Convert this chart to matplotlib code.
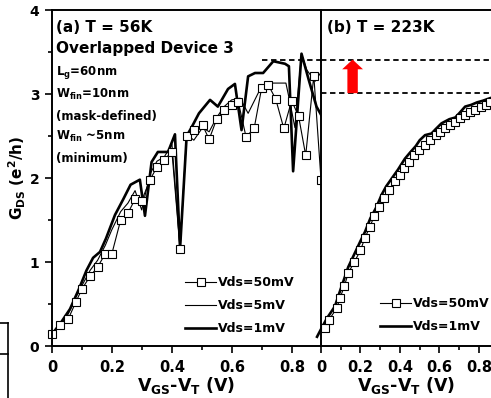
import numpy as np
import matplotlib
matplotlib.use("Agg")
import matplotlib.pyplot as plt
from matplotlib.lines import Line2D
from matplotlib.ticker import MultipleLocator

plt.rcParams['font.family'] = ['DejaVu Sans']
plt.rcParams['font.weight'] = 'bold'
plt.rcParams['mathtext.default'] = 'regular'

# (a) T = 56K
x50_a = [0, 0.027, 0.054, 0.079, 0.1, 0.127, 0.152, 0.178, 0.199, 0.229, 0.253, 0.277,
         0.299, 0.327, 0.35, 0.374, 0.4, 0.427, 0.449, 0.473, 0.502, 0.524, 0.549, 0.574,
         0.599, 0.621, 0.647, 0.674, 0.699, 0.721, 0.746, 0.773, 0.799, 0.822, 0.846,
         0.873, 0.897]
g50_a = [0.14, 0.25, 0.32, 0.52, 0.68, 0.83, 0.94, 1.10, 1.09, 1.50, 1.58, 1.75,
         1.73, 1.98, 2.13, 2.22, 2.31, 1.16, 2.50, 2.57, 2.63, 2.46, 2.70, 2.81,
         2.87, 2.91, 2.49, 2.59, 3.07, 3.11, 2.94, 2.59, 2.92, 2.74, 2.27,
         3.22, 1.98]

x5_a = [0, 0.027, 0.054, 0.079, 0.1, 0.127, 0.152, 0.178, 0.199, 0.229, 0.253, 0.277,
        0.299, 0.327, 0.35, 0.374, 0.4, 0.427, 0.449, 0.473, 0.502, 0.524, 0.549, 0.574,
        0.599, 0.627, 0.654, 0.693, 0.737, 0.78, 0.793, 0.81, 0.832, 0.849, 0.877, 0.91]
g5_a = [0.14, 0.26, 0.38, 0.58, 0.72, 0.90, 1.02, 1.20, 1.38, 1.60, 1.70, 1.85,
        1.62, 2.05, 2.20, 2.25, 2.40, 1.16, 2.52, 2.45, 2.60, 2.55, 2.72, 2.85,
        2.93, 2.95, 2.77, 3.05, 3.13, 3.13, 2.91, 2.60, 3.48, 3.29, 3.15, 3.33]

x1_a = [0.0, 0.03, 0.06, 0.09, 0.115, 0.137, 0.16, 0.18, 0.21, 0.238, 0.262, 0.293,
        0.31, 0.332, 0.353, 0.387, 0.41, 0.427, 0.449, 0.465, 0.49, 0.527, 0.553,
        0.587, 0.61, 0.632, 0.654, 0.677, 0.704, 0.738, 0.777, 0.79, 0.804, 0.832,
        0.856, 0.882, 0.91]
g1_a = [0.14, 0.28, 0.44, 0.68, 0.90, 1.05, 1.12, 1.28, 1.56, 1.75, 1.92, 1.98,
        1.55, 2.19, 2.31, 2.31, 2.52, 1.16, 2.50, 2.60, 2.77, 2.93, 2.85,
        3.06, 3.12, 2.57, 3.21, 3.25, 3.25, 3.39, 3.36, 3.33, 2.08, 3.48,
        3.17, 2.85, 2.67]

# (b) T = 223K
x50_b = [0.02, 0.04, 0.08, 0.096, 0.118, 0.138, 0.169, 0.2, 0.223, 0.248, 0.27, 0.295,
         0.319, 0.344, 0.375, 0.4, 0.422, 0.447, 0.472, 0.498, 0.527, 0.552, 0.58, 0.603,
         0.628, 0.653, 0.678, 0.704, 0.729, 0.754, 0.78, 0.808, 0.834, 0.856]
g50_b = [0.21, 0.31, 0.45, 0.57, 0.71, 0.87, 1.0, 1.14, 1.29, 1.42, 1.55, 1.66,
         1.76, 1.86, 1.96, 2.04, 2.12, 2.19, 2.27, 2.33, 2.39, 2.45, 2.51, 2.55,
         2.59, 2.63, 2.67, 2.71, 2.75, 2.78, 2.81, 2.84, 2.87, 2.90]

x1_b = [-0.02, 0.0, 0.03, 0.07, 0.1, 0.138, 0.17, 0.2, 0.223, 0.25, 0.28, 0.307,
        0.33, 0.36, 0.39, 0.425, 0.45, 0.48, 0.5, 0.527, 0.56, 0.58, 0.61, 0.65,
        0.68, 0.7, 0.73, 0.76, 0.79, 0.82, 0.856, 0.87]
g1_b = [0.11, 0.2, 0.33, 0.47, 0.68, 0.94, 1.1, 1.25, 1.36, 1.52, 1.65, 1.8,
        1.9, 2.0, 2.1, 2.23, 2.3, 2.38, 2.45, 2.51, 2.53, 2.58, 2.65, 2.7,
        2.72, 2.77, 2.85, 2.87, 2.9, 2.92, 2.95, 2.96]

level_hi = 3.41
level_lo = 3.01

W, H = 491, 398
fig = plt.figure(figsize=(W / 100, H / 100), dpi=100)
ax1 = fig.add_axes([52 / W, 1 - 346 / H, 269 / W, 336 / H])
ax2 = fig.add_axes([321 / W, 1 - 346 / H, 170 / W, 336 / H])

thin = dict(color='black', lw=0.8)
sq = dict(marker='s', ms=5.5, mfc='white', mec='black', mew=0.8)

ax1.plot(x5_a, g5_a, **thin, clip_on=False)
ax1.plot(x1_a, g1_a, color='black', lw=1.9, clip_on=False)
ax1.plot(x50_a, g50_a, **thin, **sq, clip_on=False)
ax1.set_xlim(0, 0.897)
ax1.set_ylim(0, 4)

ax2.plot(x1_b, g1_b, color='black', lw=1.9, clip_on=False)
ax2.plot(x50_b, g50_b, **thin, **sq)
ax2.set_xlim(0, 0.861)
ax2.set_ylim(0, 4)

ticks = [0, 0.2, 0.4, 0.6, 0.8]
for ax in (ax1, ax2):
    ax.set_xticks(ticks)
    ax.set_xticklabels(['0', '0.2', '0.4', '0.6', '0.8'], fontweight='bold')
    ax.xaxis.set_minor_locator(MultipleLocator(0.1))
    ax.tick_params(axis='x', which='major', length=5, width=1.2, labelsize=10.5, pad=5)
    ax.tick_params(axis='x', which='minor', length=3, width=1.2)
    for s in ax.spines.values():
        s.set_linewidth(1.4)
    ax.spines['right'].set_visible(False)

ax1.set_yticks([0, 1, 2, 3, 4])
ax1.set_yticklabels(['0', '1', '2', '3', '4'], fontweight='bold')
ax1.yaxis.set_minor_locator(MultipleLocator(0.5))
ax1.tick_params(axis='y', which='major', length=5, width=1.2, labelsize=10, pad=4)
ax1.tick_params(axis='y', which='minor', length=3, width=1.2)
ax2.set_yticks([])

ax1.set_ylabel(r'G$_{DS}$ (e$^{2}$/h)', fontsize=11, fontweight='bold')
ax1.yaxis.set_label_coords(-0.09, 0.5)
ax1.set_xlabel(r'V$_{GS}$-V$_{T}$ (V)', fontsize=12.5, fontweight='bold', labelpad=0)
ax2.set_xlabel(r'V$_{GS}$-V$_{T}$ (V)', fontsize=12.5, fontweight='bold', labelpad=0)

# annotations
ax1.text(0.015, 0.949, '(a) T = 56K', transform=ax1.transAxes, fontsize=11,
         fontweight='bold', va='center')
ax1.text(0.015, 0.884, 'Overlapped Device 3', transform=ax1.transAxes, fontsize=11,
         fontweight='bold', va='center')
info = [r'L$_{g}$=60nm', r'W$_{fin}$=10nm', '(mask-defined)', r'W$_{fin}$ ~5nm', '(minimum)']
info_y = [0.815, 0.75, 0.682, 0.625, 0.557]
for t, yy in zip(info, info_y):
    ax1.text(0.015, yy, t, transform=ax1.transAxes, fontsize=8.5,
             fontweight='bold', va='center')
ax2.text(0.035, 0.949, '(b) T = 223K', transform=ax2.transAxes, fontsize=11,
         fontweight='bold', va='center')

# dashed levels and arrow
ax1.hlines(level_hi, 0.70, 0.897, colors='black', lw=1.3, linestyles=(0, (3, 2)))
ax2.hlines([level_hi, level_lo], 0, 0.861, colors='black', lw=1.3, linestyles=(0, (3, 2)))
ax2.annotate('', xy=(0.16, level_hi), xytext=(0.16, level_lo),
             arrowprops=dict(arrowstyle='simple,head_length=7,head_width=15,tail_width=7.5',
                             mutation_scale=1, color='red', shrinkA=0, shrinkB=0, lw=0))

# legends
h50 = Line2D([], [], **thin, **sq)
h5 = Line2D([], [], **thin)
h1 = Line2D([], [], color='black', lw=1.9)
leg_kw = dict(frameon=False, prop=dict(weight='bold', size=9), handlelength=2.5,
              handletextpad=0.15, labelspacing=0.8, borderaxespad=0, borderpad=0)
ax1.legend([h50, h5, h1], ['Vds=50mV', 'Vds=5mV', 'Vds=1mV'], loc='lower left',
           bbox_to_anchor=(0.494, 0.033), **leg_kw)
ax2.legend([h50, h1], ['Vds=50mV', 'Vds=1mV'], loc='lower left',
           bbox_to_anchor=(0.347, 0.038), **leg_kw)

# cropped frame fragment at the bottom-left edge
fig.add_artist(Line2D([8 / W, 8 / W], [0, 1 - 323 / H], transform=fig.transFigure,
                      color='black', lw=1.2))
fig.add_artist(Line2D([0, 8 / W], [1 - 323 / H, 1 - 323 / H], transform=fig.transFigure,
                      color='black', lw=1.2))
fig.add_artist(Line2D([0, 8 / W], [1 - 354 / H, 1 - 354 / H], transform=fig.transFigure,
                      color='black', lw=1.2))

fig.savefig('out.png', dpi=100)
